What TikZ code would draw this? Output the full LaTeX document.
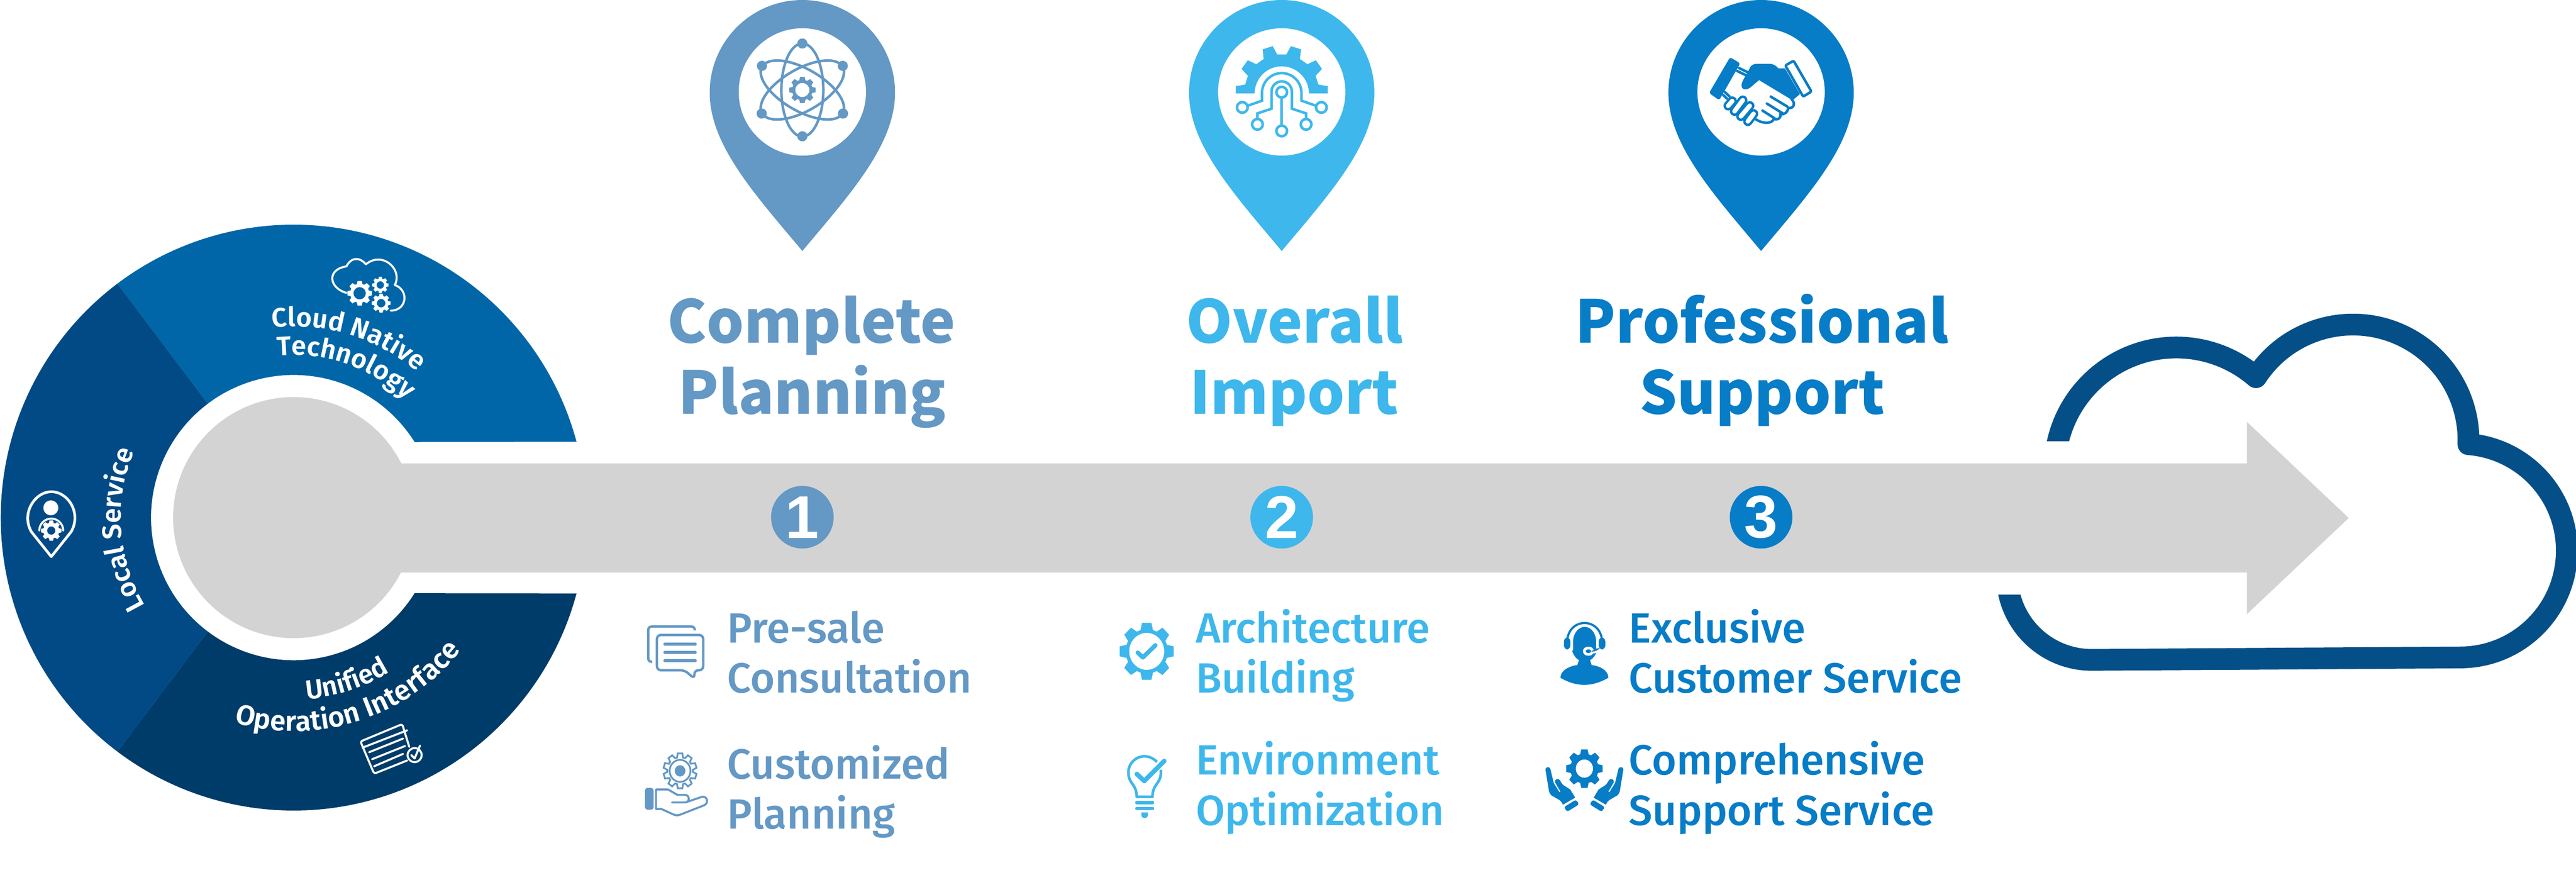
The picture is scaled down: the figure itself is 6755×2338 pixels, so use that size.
\documentclass[tikz,border=0pt]{standalone}
\usepackage{fontspec}
\newfontfamily\headfont{Noto Sans CJK SC}
\newfontfamily\labelfont[UprightFont={* Medium},BoldFont={* SemiBold}]{Fira Sans}
\newfontfamily\digitfont{Liberation Sans}
\usetikzlibrary{
    arrows.meta,
    calc,
    decorations.text
}
\definecolor{pinone}{HTML}{6498C5}
\definecolor{pintwo}{HTML}{3EB7EC}
\definecolor{pinthree}{HTML}{077CC7}
\definecolor{ringtop}{HTML}{0066A8}
\definecolor{ringleft}{HTML}{014A86}
\definecolor{ringlow}{HTML}{003C69}
\definecolor{cloudblue}{HTML}{044F87}
\definecolor{bargrey}{HTML}{D3D3D3}
\newcommand{\ringtext}{\labelfont\bfseries\fontsize{20}{24}\selectfont\color{white}}
\newcommand{\ringwide}{\labelfont\bfseries\fontsize{21}{24}\selectfont\color{white}}
% filled map pin with a round window
\newcommand{\pinshape}[2]{
    \fill[#2,even odd rule] (#1,658) .. controls (#1-124,510) and (#1-243,380) .. (#1-243,243)
        arc[start angle=180,end angle=360,radius=243]
        .. controls (#1+243,380) and (#1+124,510) .. (#1,658) -- cycle
        (#1,241) circle[radius=167];
}
% gear: style, x, y, radius, teeth, hole
\newcommand{\gearicon}[6]{
    \begin{scope}[shift={(#2,#3)},scale=#4]
        \pgfmathsetmacro{\gsec}{360/#5}
        \path[#1,even odd rule] (-90-0.38*\gsec:0.77)
            \foreach \k [evaluate=\k as \gang using {-90+(\k-1)*\gsec}] in {1,...,#5}{
                -- (\gang-0.22*\gsec:1) -- (\gang+0.22*\gsec:1)
                -- (\gang+0.38*\gsec:0.77) -- (\gang+0.62*\gsec:0.77)
            } -- cycle (0,0) circle[radius=#6];
    \end{scope}
}
\tikzset{
    headtext/.style={font=\headfont\bfseries\fontsize{44}{50}\selectfont,anchor=base,inner sep=0pt},
    itemtext/.style={font=\labelfont\fontsize{31.5}{36}\selectfont,anchor=base west,inner sep=0pt},
    badge/.style={circle,minimum size=1.64cm,inner sep=0pt,text=white,font=\digitfont\bfseries\fontsize{45}{50}\selectfont},
    ringline/.style={draw=white,line width=1.5pt,line cap=round,line join=round}
}
\begin{document}
\begin{tikzpicture}[x=0.01cm,y=-0.01cm]
    \useasboundingbox (0,0) rectangle (6755,2338);
    \coordinate (ringc) at (770,1357);

    % Cloud
    \begin{scope}
        \clip (5100,700) -- (6755,700) -- (6755,1900) -- (5100,1900) -- (5100,1559) -- (5500,1559) -- (5500,1157) -- (5100,1157) -- cycle;
        \draw[cloudblue,line width=16.2pt,line join=round] (5707,1230) ++(185:319) arc[start angle=185,end angle=310.9,radius=319]
            arc[start angle=213,end angle=362,radius=303]
            arc[start angle=274.5,end angle=450,radius=280] -- (5485,1730)
            arc[start angle=90,end angle=175,radius=222];
    \end{scope}

    % Grey arrow
    \fill[bargrey] (ringc) circle[radius=316];
    \fill[bargrey] (1052,1215) -- (5892,1215) -- (5892,1106) -- (6159,1358) -- (5892,1610) -- (5892,1501) -- (1052,1501) -- cycle;

    % Ring
    \fill[ringtop] ([shift={(-15:768)}]ringc) arc[start angle=-15,end angle=-127,radius=768]
        -- ([shift={(-127:374)}]ringc) arc[start angle=-127,end angle=-32,radius=374] -- cycle;
    \fill[ringleft] ([shift={(127:768)}]ringc) arc[start angle=127,end angle=233,radius=768]
        -- ([shift={(233:374)}]ringc) arc[start angle=233,end angle=127,radius=374] -- cycle;
    \fill[ringlow] ([shift={(15:768)}]ringc) arc[start angle=15,end angle=127,radius=768]
        -- ([shift={(127:374)}]ringc) arc[start angle=127,end angle=32,radius=374] -- cycle;

    % Ring texts
    \path[decorate,decoration={text along path,text align=center,text={|\ringtext|Cloud Native}}]
        ([shift={(-133:501)}]ringc) arc[start angle=-133,end angle=-13,radius=501];
    \path[decorate,decoration={text along path,text align=center,text={|\ringtext|Technology}}]
        ([shift={(-131:426)}]ringc) arc[start angle=-131,end angle=-11,radius=426];
    \path[decorate,decoration={text along path,text align=center,text={|\ringtext|Local Service}}]
        ([shift={(116:453)}]ringc) arc[start angle=116,end angle=236,radius=453];
    \path[decorate,decoration={text along path,text align=center,text={|\ringtext|Unified}}]
        ([shift={(132:477)}]ringc) arc[start angle=132,end angle=12,radius=477];
    \path[decorate,decoration={text along path,text align=center,text={|\ringwide|Operation Interface}}]
        ([shift={(132.3:560)}]ringc) arc[start angle=132.3,end angle=12.3,radius=560];

    % Ring icons
    \begin{scope}[shift={(0,500)},scale=1.084]
        % cloud with gears
        \draw[ringline] (838,247) .. controls (795,235) and (790,190) .. (838,183)
            .. controls (850,160) and (870,160) .. (885,178)
            .. controls (925,145) and (975,190) .. (955,228)
            .. controls (990,240) and (985,290) .. (945,290);
        \gearicon{fill=white}{870}{248}{30}{8}{0.5}
        \gearicon{fill=white}{920}{228}{20}{8}{0.45}
        \gearicon{fill=white}{922}{272}{23}{8}{0.45}
        % pin with person
        \draw[ringline,line width=2pt] (124,885) -- (76,825) .. controls (50,780) and (85,728) .. (124,728)
            .. controls (165,728) and (198,780) .. (172,825) -- cycle;
        \fill[white] (123,767) circle[radius=18];
        \draw[ringline] (95,822) arc[start angle=180,end angle=360,radius=29];
        \gearicon{fill=white}{124}{822}{25}{8}{0.4}
        % window with check
        \draw[ringline,rounded corners=1.5pt] (990,1345) -- (973,1290) -- (872,1332) -- (905,1410) -- (985,1378);
        \draw[ringline] (877,1347) -- (985,1305) (893,1358) -- (975,1325) (900,1375) -- (980,1343) (905,1392) -- (975,1362);
        \draw[ringline] (1003,1365) circle[radius=17] (995,1365) -- (1003,1373) -- (1016,1342);
    \end{scope}

    % Pins
    \pinshape{2104}{pinone}
    \pinshape{3361}{pintwo}
    \pinshape{4618}{pinthree}

    % Atom
    \begin{scope}[shift={(1900,40)},scale=0.3333,line width=1.9pt]
        \foreach \r in {0,60,120}{
            \draw[pinone,rotate around={\r:(612,588)}] (612,588) ellipse[x radius=165,y radius=366];
        }
        \foreach \p in {(612,222),(612,952),(294,398),(930,398),(292,773),(932,773)}{
            \fill[pinone] \p circle[radius=40];
        }
        \gearicon{fill=pinone}{612}{588}{105}{8}{0.53}
    \end{scope}

    % Half gear with circuit
    \begin{scope}[shift={(3160,40)},scale=0.3333,line width=1.9pt]
        \fill[pintwo] (242,615) -- (242,558) -- (316,545) -- (337,476) -- (287,422) -- (336,354) -- (403,385) -- (461,344)
            -- (453,268) -- (532,243) -- (567,308) -- (640,308) -- (675,243) -- (755,268) -- (746,344) -- (805,385)
            -- (872,354) -- (920,422) -- (870,476) -- (891,545) -- (965,558) -- (965,615) -- (817,615)
            arc[start angle=0,end angle=-180,radius=213.5] -- cycle;
        \draw[pintwo] (293,725) circle[radius=42] (915,725) circle[radius=42] (412,858) circle[radius=42]
            (795,858) circle[radius=42] (603,605) circle[radius=42] (603,910) circle[radius=42];
        \draw[pintwo] (340,710) -- (448,672) -- (448,610) arc[start angle=180,end angle=360,radius=155] -- (758,672) -- (868,710);
        \draw[pintwo] (412,815) -- (412,772) -- (523,735) -- (523,600) arc[start angle=180,end angle=360,radius=80] -- (683,735) -- (795,772) -- (795,815);
        \draw[pintwo] (603,650) -- (603,865);
    \end{scope}

    % Handshake
    \begin{scope}[shift={(4420,40)},scale=0.3333,line width=1.9pt,line cap=round,line join=round]
        \fill[pinthree,rounded corners=1.5pt] (350,330) -- (430,378) -- (265,668) -- (185,612) -- cycle;
        \draw[pinthree,rounded corners=1pt] (850,358) -- (990,600) -- (925,640) -- (785,395) -- cycle;
        \fill[pinthree] (730,418) -- (782,418) -- (900,620) -- (852,660) -- (835,665) -- (578,510) -- (525,555)
            .. controls (490,590) and (445,595) .. (440,555) .. controls (438,520) and (480,470) .. (510,405)
            .. controls (525,385) and (545,382) .. (565,382) -- (660,382) .. controls (695,382) and (715,400) .. (730,418) -- cycle;
        \draw[pinthree] (420,415) -- (488,448) (405,438) -- (472,470) (310,605) -- (345,638) (297,628) -- (325,655);
        \foreach \a/\b in {{(335,712)}/{(367,675)},{(385,755)}/{(450,668)},{(435,795)}/{(505,712)},{(490,835)}/{(535,775)}}{
            \draw[pinthree,line width=7pt] \a -- \b;
        }
        \foreach \a/\b in {{(335,712)}/{(367,675)},{(385,755)}/{(450,668)},{(435,795)}/{(505,712)},{(490,835)}/{(535,775)}}{
            \draw[white,line width=3.4pt] \a -- \b;
        }
        \draw[pinthree] (670,640) -- (800,718) (640,695) -- (770,775) (605,750) -- (700,810);
        \draw[pinthree] (835,662) .. controls (865,690) and (855,735) .. (808,730)
            .. controls (800,770) and (770,785) .. (745,775)
            .. controls (755,810) and (725,825) .. (695,815)
            .. controls (680,855) and (610,855) .. (555,820);
    \end{scope}

    % Headings
    \node[headtext,text=pinone] (planone) at (2128,899) {Complete};
    \node[headtext,text=pinone] (plantwo) at (2130,1085) {Planning};
    \node[headtext,text=pintwo] (importone) at (3395,899) {Overall};
    \node[headtext,text=pintwo] (importtwo) at (3394,1085) {Import};
    \node[headtext,text=pinthree] (supportone) at (4620,899) {Professional};
    \node[headtext,text=pinthree] (supporttwo) at (4621,1085) {Support};

    % Numbers
    \node[badge,fill=pinone] (numone) at (2104,1356) {1};
    \node[badge,fill=pintwo] (numtwo) at (3361,1356) {2};
    \node[badge,fill=pinthree] (numthree) at (4618,1356) {3};

    % Items
    \node[itemtext,text=pinone] (presale) at (1906,1685) {Pre-sale};
    \node[itemtext,text=pinone] (consult) at (1906,1816) {Consultation};
    \node[itemtext,text=pinone] (custom) at (1906,2042) {Customized};
    \node[itemtext,text=pinone] (planning) at (1906,2173) {Planning};
    \node[itemtext,text=pintwo] (archi) at (3135,1685) {Architecture};
    \node[itemtext,text=pintwo] (building) at (3135,1816) {Building};
    \node[itemtext,text=pintwo] (environ) at (3135,2031) {Environment};
    \node[itemtext,text=pintwo] (optim) at (3135,2163) {Optimization};
    \node[itemtext,text=pinthree] (exclusive) at (4271,1685) {Exclusive};
    \node[itemtext,text=pinthree] (custserv) at (4271,1816) {Customer Service};
    \node[itemtext,text=pinthree] (compre) at (4271,2031) {Comprehensive};
    \node[itemtext,text=pinthree] (suppserv) at (4271,2163) {Support Service};

    % Item icons, first column
    \begin{scope}[shift={(1650,1600)},xscale=0.3508,yscale=0.3699,line width=1.8pt]
        \draw[pinone,rounded corners=2.5pt] (172,365) -- (142,365) -- (142,115) -- (490,115) -- (490,143);
        \draw[pinone,rounded corners=3pt] (207,175) -- (553,175) -- (553,425) -- (487,425) -- (487,485) -- (415,425) -- (207,425) -- cycle;
        \draw[pinone,line width=2.2pt,line cap=round] (266,241) -- (494,241) (266,299) -- (494,299) (266,357) -- (494,357);
        \gearicon{draw=pinone,line width=1.3pt}{380}{1138}{125}{10}{0}
        \draw[pinone,line width=1.3pt] (380,1138) circle[radius=78];
        \fill[pinone] (380,1138) circle[radius=40];
        \fill[pinone,rounded corners=2pt] (118,1258) rectangle (182,1414);
        \draw[pinone,line width=1.5pt,line join=round,line cap=round] (320,1362) -- (415,1362) .. controls (455,1362) and (455,1308) .. (415,1308)
            -- (360,1308) -- (290,1270) -- (200,1270) -- (200,1408) -- (240,1408) -- (330,1447) .. controls (350,1455) and (370,1455) .. (385,1447)
            -- (560,1382) .. controls (600,1365) and (580,1310) .. (540,1323) -- (420,1362);
    \end{scope}

    % Item icons, second column
    \begin{scope}[shift={(2880,1600)},xscale=0.3508,yscale=0.3699,line cap=round,line join=round]
        \gearicon{fill=pintwo}{362}{291}{205}{8}{0.64}
        \draw[pintwo,line width=3.2pt] (295,300) -- (333,334) -- (427,248);
        \draw[pintwo,line width=2pt,line cap=butt] (438,1075) .. controls (415,1050) and (380,1035) .. (346,1035)
            .. controls (280,1035) and (225,1085) .. (225,1150) .. controls (225,1230) and (287,1230) .. (287,1322)
            -- (405,1322) .. controls (405,1230) and (468,1230) .. (468,1150) -- (468,1130);
        \draw[pintwo,line width=3.4pt] (288,1160) -- (344,1210) -- (493,1068);
        \draw[pintwo,line width=2.6pt] (288,1363) -- (405,1363) (288,1405) -- (405,1405);
        \fill[pintwo] (322,1433) -- (371,1433) -- (371,1450) .. controls (371,1480) and (322,1480) .. (322,1450) -- cycle;
    \end{scope}

    % Item icons, third column
    \begin{scope}[shift={(4000,1600)},xscale=0.3508,yscale=0.3699]
        \fill[pinthree] (262,478) .. controls (262,425) and (330,395) .. (388,388) -- (402,350) -- (482,350) -- (495,388)
            .. controls (555,395) and (620,425) .. (620,478) .. controls (500,545) and (380,545) .. (262,478) -- cycle;
        \fill[pinthree] (442,240) ellipse[x radius=100,y radius=125];
        \draw[white,line width=2.2pt] (345,285) -- (345,210) .. controls (355,140) and (400,107) .. (442,107)
            .. controls (490,107) and (530,140) .. (540,210) -- (540,270);
        \draw[pinthree,line width=1.6pt] (315,195) .. controls (330,125) and (385,90) .. (442,90)
            .. controls (500,90) and (555,125) .. (570,195);
        \fill[pinthree,rounded corners=3pt] (288,192) rectangle (336,278) (548,192) rectangle (597,278);
        \fill[pinthree,draw=white,line width=2pt,rounded corners=2.5pt] (440,268) rectangle (502,312);
        \draw[white,line width=2pt] (500,298) .. controls (525,295) and (545,285) .. (555,272);
        \draw[pinthree,line width=0.8pt] (495,290) .. controls (520,288) and (540,280) .. (552,268);
        \gearicon{fill=pinthree}{441}{1122}{138}{8}{0.47}
        \foreach \s in {1,-1}{
            \begin{scope}[shift={(441,0)},xscale=\s,shift={(-441,0)}]
                \fill[pinthree] (150,1130) .. controls (150,1105) and (185,1105) .. (188,1130) -- (212,1225) -- (255,1290) -- (262,1285) -- (222,1220)
                    .. controls (218,1190) and (250,1190) .. (258,1205) .. controls (270,1225) and (278,1235) .. (285,1240) -- (335,1270) -- (372,1328)
                    -- (280,1378) .. controls (272,1360) and (265,1352) .. (255,1345) -- (195,1312) .. controls (182,1300) and (178,1290) .. (175,1275) -- cycle;
                \fill[pinthree,rounded corners=1.5pt] (288,1395) -- (378,1342) -- (402,1375) -- (312,1428) -- cycle;
            \end{scope}
        }
    \end{scope}
\end{tikzpicture}
\end{document}
